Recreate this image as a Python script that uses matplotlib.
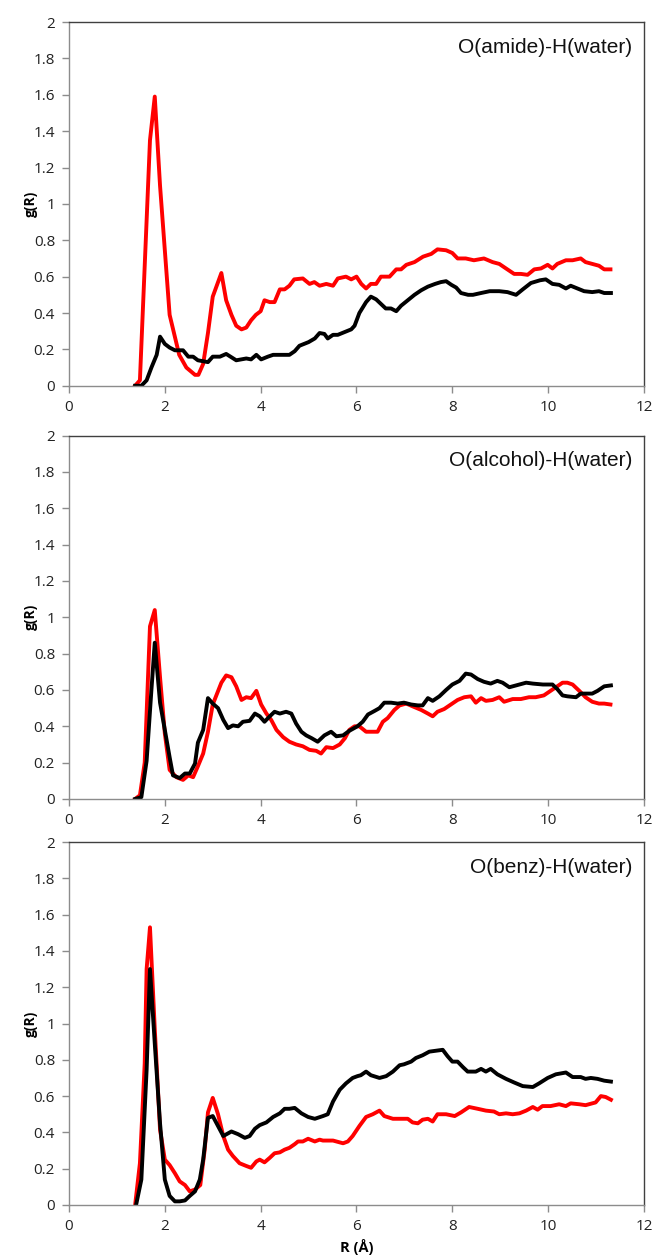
import matplotlib.pyplot as plt
import numpy as np

# Radial distribution functions g(R)
# panel 1: O(amide)-H(water)
amide_red_r = [1.38, 1.48, 1.69, 1.79, 1.9, 2.1, 2.3, 2.45, 2.63, 2.7, 2.8, 2.9, 3.0, 3.18, 3.28,
               3.39, 3.49, 3.6, 3.7, 3.8, 3.9, 4.0, 4.08, 4.19, 4.29, 4.4, 4.5, 4.6, 4.7, 4.88,
               5.02, 5.12, 5.23, 5.37, 5.51, 5.61, 5.78, 5.89, 6.0, 6.1, 6.2, 6.3, 6.41, 6.51,
               6.69, 6.83, 6.93, 7.04, 7.21, 7.39, 7.56, 7.69, 7.87, 8.0, 8.11, 8.28, 8.45, 8.66,
               8.84, 8.98, 9.12, 9.29, 9.43, 9.57, 9.71, 9.85, 9.99, 10.09, 10.19, 10.37, 10.51,
               10.68, 10.78, 10.92, 11.06, 11.17, 11.3]
amide_red_g = [0.0, 0.03, 1.35, 1.59, 1.1, 0.39, 0.17, 0.10, 0.06, 0.06, 0.12, 0.29, 0.49, 0.62, 0.47,
               0.39, 0.33, 0.31, 0.32, 0.36, 0.39, 0.41, 0.47, 0.46, 0.46, 0.53, 0.53, 0.55, 0.585, 0.59,
               0.56, 0.57, 0.55, 0.56, 0.55, 0.59, 0.60, 0.585, 0.60, 0.56, 0.535, 0.56, 0.56, 0.60,
               0.60, 0.64, 0.64, 0.665, 0.68, 0.71, 0.725, 0.75, 0.745, 0.73, 0.70, 0.70, 0.69, 0.70,
               0.68, 0.67, 0.645, 0.615, 0.615, 0.61, 0.64, 0.645, 0.665, 0.645, 0.67, 0.69, 0.69,
               0.70, 0.68, 0.67, 0.66, 0.64, 0.64]
amide_blk_r = [1.38, 1.51, 1.62, 1.72, 1.83, 1.9, 2.0, 2.1, 2.21, 2.38, 2.49, 2.59, 2.69, 2.9, 3.0,
               3.15, 3.28, 3.49, 3.7, 3.8, 3.91, 4.01, 4.15, 4.26, 4.43, 4.6, 4.71, 4.81, 5.0, 5.13,
               5.23, 5.33, 5.4, 5.51, 5.61, 5.75, 5.89, 5.96, 6.06, 6.2, 6.3, 6.41, 6.51, 6.61, 6.72,
               6.83, 6.93, 7.07, 7.21, 7.35, 7.49, 7.64, 7.76, 7.87, 7.98, 8.08, 8.18, 8.33, 8.43,
               8.6, 8.78, 8.98, 9.15, 9.33, 9.47, 9.64, 9.83, 9.95, 10.09, 10.23, 10.37, 10.47,
               10.61, 10.75, 10.92, 11.06, 11.17, 11.31]
amide_blk_g = [0.0, 0.0, 0.03, 0.10, 0.17, 0.27, 0.23, 0.21, 0.195, 0.195, 0.16, 0.16, 0.14, 0.13, 0.16,
               0.16, 0.175, 0.14, 0.15, 0.145, 0.17, 0.145, 0.16, 0.17, 0.17, 0.17, 0.19, 0.22, 0.24, 0.26,
               0.29, 0.285, 0.26, 0.28, 0.28, 0.295, 0.31, 0.33, 0.40, 0.46, 0.49, 0.475, 0.45, 0.425, 0.425,
               0.41, 0.44, 0.47, 0.50, 0.525, 0.545, 0.56, 0.57, 0.575, 0.555, 0.54, 0.51, 0.50, 0.50,
               0.51, 0.52, 0.52, 0.515, 0.50, 0.53, 0.565, 0.58, 0.585, 0.56, 0.555, 0.535, 0.55,
               0.535, 0.52, 0.515, 0.52, 0.51, 0.51]

# panel 2: O(alcohol)-H(water)
alcohol_red_r = [1.38, 1.48, 1.58, 1.69, 1.79, 1.9, 2.0, 2.1, 2.24, 2.38, 2.49, 2.59, 2.69, 2.8, 2.9,
                 3.0, 3.18, 3.28, 3.39, 3.49, 3.6, 3.7, 3.8, 3.91, 4.01, 4.12, 4.22, 4.33, 4.47, 4.6,
                 4.74, 4.88, 5.02, 5.16, 5.26, 5.37, 5.51, 5.65, 5.76, 5.85, 5.96, 6.06, 6.2, 6.44,
                 6.55, 6.65, 6.79, 6.9, 7.04, 7.17, 7.35, 7.49, 7.59, 7.69, 7.83, 7.97, 8.11, 8.25,
                 8.39, 8.49, 8.6, 8.7, 8.84, 8.98, 9.08, 9.26, 9.43, 9.6, 9.74, 9.91, 10.05, 10.19,
                 10.3, 10.4, 10.51, 10.65, 10.78, 10.92, 11.06, 11.17, 11.3]
alcohol_red_g = [0.0, 0.02, 0.2, 0.95, 1.04, 0.67, 0.36, 0.16, 0.12, 0.105, 0.13, 0.12, 0.18, 0.25, 0.37,
                 0.52, 0.64, 0.68, 0.67, 0.62, 0.545, 0.56, 0.555, 0.595, 0.52, 0.47, 0.435, 0.38, 0.34, 0.315,
                 0.30, 0.29, 0.27, 0.265, 0.25, 0.285, 0.28, 0.30, 0.335, 0.38, 0.40, 0.40, 0.37, 0.37,
                 0.425, 0.445, 0.49, 0.515, 0.525, 0.51, 0.49, 0.47, 0.455, 0.48, 0.495, 0.52, 0.545, 0.56,
                 0.565, 0.53, 0.555, 0.54, 0.545, 0.56, 0.535, 0.55, 0.55, 0.56, 0.56, 0.57, 0.595, 0.62,
                 0.64, 0.64, 0.63, 0.595, 0.56, 0.535, 0.525, 0.525, 0.52]
alcohol_blk_r = [1.38, 1.51, 1.62, 1.72, 1.79, 1.9, 2.0, 2.1, 2.17, 2.31, 2.42, 2.52, 2.63, 2.69, 2.8,
                 2.9, 3.0, 3.11, 3.22, 3.32, 3.42, 3.53, 3.63, 3.77, 3.88, 3.98, 4.08, 4.19, 4.29, 4.4,
                 4.53, 4.64, 4.74, 4.85, 4.95, 5.06, 5.19, 5.33, 5.47, 5.58, 5.72, 5.85, 6.02, 6.13,
                 6.24, 6.38, 6.48, 6.58, 6.72, 6.86, 6.99, 7.14, 7.28, 7.38, 7.49, 7.59, 7.73, 7.87,
                 8.0, 8.15, 8.28, 8.39, 8.53, 8.66, 8.8, 8.94, 9.05, 9.19, 9.33, 9.54, 9.68, 9.89,
                 10.09, 10.19, 10.3, 10.4, 10.58, 10.68, 10.82, 10.92, 11.03, 11.17, 11.31]
alcohol_blk_g = [0.0, 0.01, 0.21, 0.60, 0.86, 0.53, 0.38, 0.23, 0.13, 0.115, 0.14, 0.14, 0.195, 0.31, 0.38,
                 0.555, 0.525, 0.50, 0.435, 0.39, 0.405, 0.40, 0.425, 0.43, 0.47, 0.455, 0.425, 0.455, 0.48, 0.47,
                 0.48, 0.47, 0.415, 0.37, 0.35, 0.335, 0.315, 0.35, 0.37, 0.345, 0.35, 0.375, 0.40, 0.425,
                 0.465, 0.485, 0.50, 0.53, 0.53, 0.525, 0.53, 0.52, 0.515, 0.515, 0.555, 0.54, 0.565, 0.60,
                 0.63, 0.65, 0.69, 0.685, 0.66, 0.645, 0.635, 0.65, 0.64, 0.615, 0.625, 0.64, 0.635, 0.63,
                 0.63, 0.605, 0.57, 0.565, 0.56, 0.58, 0.58, 0.58, 0.595, 0.62, 0.625]

# panel 3: O(benz)-H(water)
benz_red_r = [1.38, 1.48, 1.58, 1.62, 1.69, 1.79, 1.9, 2.0, 2.1, 2.21, 2.31, 2.42, 2.52, 2.63, 2.74,
              2.83, 2.9, 3.0, 3.11, 3.22, 3.32, 3.42, 3.56, 3.7, 3.8, 3.91, 3.98, 4.08, 4.19, 4.29,
              4.4, 4.5, 4.6, 4.71, 4.78, 4.88, 4.99, 5.13, 5.23, 5.3, 5.51, 5.72, 5.82, 5.92, 6.06,
              6.2, 6.34, 6.48, 6.58, 6.76, 6.93, 7.07, 7.17, 7.28, 7.38, 7.49, 7.59, 7.69, 7.87,
              8.05, 8.18, 8.35, 8.53, 8.7, 8.87, 8.98, 9.12, 9.26, 9.4, 9.54, 9.68, 9.78, 9.88,
              10.05, 10.23, 10.37, 10.47, 10.65, 10.78, 10.92, 10.99, 11.1, 11.2, 11.31]
benz_red_g = [0.0, 0.23, 0.78, 1.30, 1.53, 0.97, 0.415, 0.25, 0.22, 0.175, 0.13, 0.11, 0.075, 0.085, 0.11,
              0.30, 0.51, 0.59, 0.50, 0.38, 0.305, 0.27, 0.23, 0.215, 0.205, 0.24, 0.25, 0.235, 0.26, 0.285,
              0.29, 0.305, 0.315, 0.335, 0.35, 0.35, 0.365, 0.35, 0.36, 0.355, 0.355, 0.34, 0.35, 0.38, 0.435,
              0.485, 0.50, 0.52, 0.49, 0.475, 0.475, 0.475, 0.455, 0.45, 0.47, 0.475, 0.46, 0.50, 0.50,
              0.49, 0.51, 0.54, 0.53, 0.52, 0.515, 0.50, 0.505, 0.50, 0.505, 0.52, 0.54, 0.525, 0.545,
              0.545, 0.555, 0.545, 0.56, 0.555, 0.55, 0.56, 0.565, 0.60, 0.595, 0.58]
benz_blk_r = [1.4, 1.51, 1.62, 1.69, 1.79, 1.9, 2.0, 2.1, 2.21, 2.31, 2.42, 2.52, 2.63, 2.73, 2.8,
              2.9, 3.0, 3.11, 3.22, 3.39, 3.53, 3.67, 3.77, 3.88, 3.98, 4.12, 4.26, 4.4, 4.5, 4.6,
              4.71, 4.85, 4.99, 5.13, 5.3, 5.4, 5.51, 5.65, 5.78, 5.92, 6.02, 6.09, 6.2, 6.3, 6.48,
              6.62, 6.76, 6.9, 6.99, 7.14, 7.24, 7.38, 7.52, 7.66, 7.8, 7.9, 8.0, 8.11, 8.22, 8.32,
              8.49, 8.6, 8.7, 8.8, 8.94, 9.12, 9.29, 9.47, 9.68, 9.81, 9.99, 10.16, 10.37, 10.51,
              10.68, 10.78, 10.89, 11.03, 11.17, 11.31]
benz_blk_g = [0.0, 0.14, 0.745, 1.30, 0.89, 0.45, 0.14, 0.05, 0.02, 0.02, 0.025, 0.05, 0.075, 0.14, 0.25,
              0.48, 0.49, 0.435, 0.38, 0.405, 0.39, 0.37, 0.38, 0.42, 0.44, 0.455, 0.485, 0.505, 0.53, 0.53,
              0.535, 0.505, 0.485, 0.475, 0.49, 0.50, 0.57, 0.635, 0.67, 0.70, 0.71, 0.715, 0.735, 0.715, 0.70,
              0.71, 0.735, 0.77, 0.775, 0.79, 0.81, 0.825, 0.845, 0.85, 0.855, 0.82, 0.79, 0.79, 0.76, 0.735,
              0.735, 0.75, 0.735, 0.75, 0.72, 0.695, 0.675, 0.655, 0.65, 0.67, 0.70, 0.72, 0.73, 0.705,
              0.705, 0.695, 0.70, 0.695, 0.685, 0.68]

labels = ['O(amide)-H(water)', 'O(alcohol)-H(water)', 'O(benz)-H(water)']
panels = [(amide_red_r, amide_red_g, amide_blk_r, amide_blk_g),
          (alcohol_red_r, alcohol_red_g, alcohol_blk_r, alcohol_blk_g),
          (benz_red_r, benz_red_g, benz_blk_r, benz_blk_g)]

fig = plt.figure(figsize=(6.54, 12.59), dpi=100)

# axes boxes in figure fractions [left, bottom, width, height]
boxes = [[0.1055, 0.6936, 0.8792, 0.2889],
         [0.1055, 0.3654, 0.8792, 0.2886],
         [0.1055, 0.0429, 0.8792, 0.2883]]

tick_font = 'Open Sans'
for i, (box, lab, (rr, rg, br, bg)) in enumerate(zip(boxes, labels, panels)):
    ax = fig.add_axes(box)
    ax.plot(rr, rg, color='#ff0000', lw=2.8, solid_joinstyle='round')
    ax.plot(br, bg, color='black', lw=2.8, solid_joinstyle='round')
    ax.set_xlim(0, 12)
    ax.set_ylim(0, 2)
    ax.set_xticks(np.arange(0, 13, 2))
    ax.set_yticks(np.arange(0, 2.01, 0.2))
    ax.set_yticklabels(['0', '0.2', '0.4', '0.6', '0.8', '1', '1.2', '1.4', '1.6', '1.8', '2'])
    for s in ['left', 'bottom']:
        ax.spines[s].set_color('#8c8c8c')
        ax.spines[s].set_linewidth(1.0)
    for s in ['top', 'right']:
        ax.spines[s].set_color('#404040')
        ax.spines[s].set_linewidth(1.0)
    ax.tick_params(direction='out', length=5, width=1, color='#8c8c8c',
                   labelsize=11, labelcolor='#222222', pad=5)
    for t in ax.get_xticklabels() + ax.get_yticklabels():
        t.set_fontfamily(tick_font)
    ax.set_ylabel('g(R)', fontsize=10, fontweight='bold', fontfamily=tick_font, labelpad=-3)
    ax.text(0.979, 0.957, lab, transform=ax.transAxes, ha='right', va='top',
            fontsize=15, fontfamily='Liberation Sans', color='#111111')
    if i == 2:
        ax.set_xlabel('R (Å)', fontsize=10.5, fontweight='bold', fontfamily=tick_font, labelpad=4)

fig.savefig('out.png', dpi=100)
